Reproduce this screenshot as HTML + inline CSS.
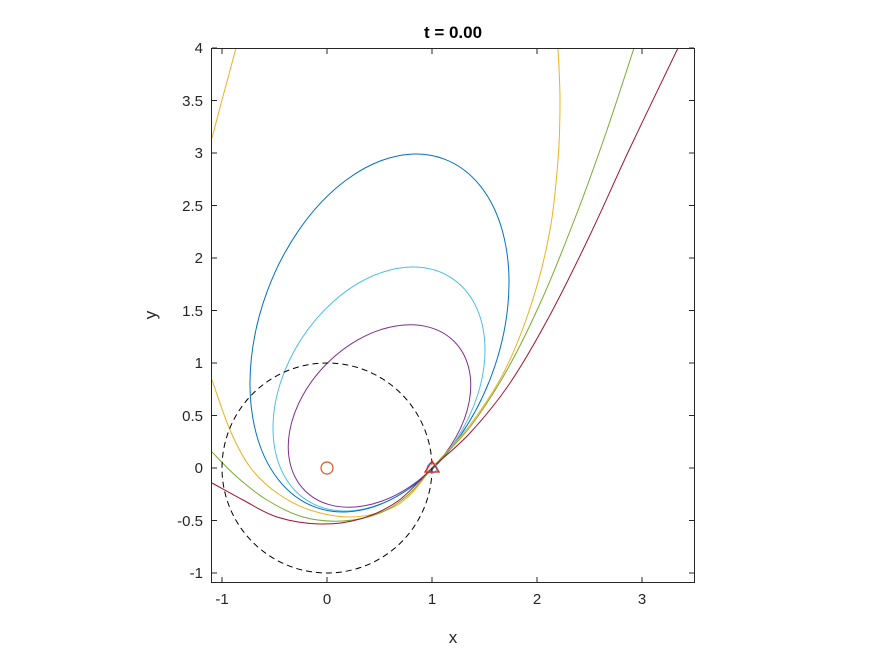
<!DOCTYPE html>
<html><head><meta charset="utf-8"><style>
html,body{margin:0;padding:0;background:#fff;}
svg{display:block;font-family:"Liberation Sans",sans-serif;}
</style></head><body>
<svg id="s" width="875" height="656" viewBox="0 0 875 656" xmlns="http://www.w3.org/2000/svg">
<rect width="875" height="656" fill="#fff"/>
<text x="453" y="38" text-anchor="middle" font-size="17" font-weight="bold" fill="#000">t = 0.00</text>
<g fill="none" stroke-width="1">
<ellipse cx="0" cy="0" rx="105.5" ry="74.3" transform="translate(379.5,416) rotate(-45)" stroke="#7e2f8e"/>
<ellipse cx="0" cy="0" rx="132.6" ry="92.4" transform="translate(379,389) rotate(-56.9)" stroke="#4dbeee"/>
<ellipse cx="0" cy="0" rx="185.6" ry="119.8" transform="translate(379.5,333) rotate(-69.7)" stroke="#0072bd"/>
</g>
<g id="curves" fill="none" stroke-width="1"></g>
<circle cx="327" cy="468" r="105" fill="none" stroke="#000" stroke-dasharray="6,4" stroke-width="1"/>
<circle cx="327" cy="468" r="6" fill="none" stroke="#d95319" stroke-width="1.2"/>
<circle cx="432" cy="468" r="5" fill="none" stroke="#4dbeee" stroke-width="1"/>
<polygon points="432,461 425,472 439,472" fill="none" stroke="#ee1111" stroke-width="1.3"/>
<rect x="211.5" y="48.5" width="483" height="534" fill="none" stroke="#262626" stroke-width="1"/>
<g stroke="#262626" stroke-width="1">
<line x1="222" y1="582" x2="222" y2="577"/><line x1="327" y1="582" x2="327" y2="577"/><line x1="432" y1="582" x2="432" y2="577"/><line x1="537" y1="582" x2="537" y2="577"/><line x1="642" y1="582" x2="642" y2="577"/>
<line x1="222" y1="49" x2="222" y2="54"/><line x1="327" y1="49" x2="327" y2="54"/><line x1="432" y1="49" x2="432" y2="54"/><line x1="537" y1="49" x2="537" y2="54"/><line x1="642" y1="49" x2="642" y2="54"/>
<line x1="212" y1="573" x2="217" y2="573"/><line x1="212" y1="520.5" x2="217" y2="520.5"/><line x1="212" y1="468" x2="217" y2="468"/><line x1="212" y1="415.5" x2="217" y2="415.5"/><line x1="212" y1="363" x2="217" y2="363"/><line x1="212" y1="310.5" x2="217" y2="310.5"/><line x1="212" y1="258" x2="217" y2="258"/><line x1="212" y1="205.5" x2="217" y2="205.5"/><line x1="212" y1="153" x2="217" y2="153"/><line x1="212" y1="100.5" x2="217" y2="100.5"/><line x1="212" y1="48" x2="217" y2="48"/>
<line x1="694" y1="573" x2="689" y2="573"/><line x1="694" y1="520.5" x2="689" y2="520.5"/><line x1="694" y1="468" x2="689" y2="468"/><line x1="694" y1="415.5" x2="689" y2="415.5"/><line x1="694" y1="363" x2="689" y2="363"/><line x1="694" y1="310.5" x2="689" y2="310.5"/><line x1="694" y1="258" x2="689" y2="258"/><line x1="694" y1="205.5" x2="689" y2="205.5"/><line x1="694" y1="153" x2="689" y2="153"/><line x1="694" y1="100.5" x2="689" y2="100.5"/><line x1="694" y1="48" x2="689" y2="48"/>
</g>
<g font-size="15" fill="#262626" text-anchor="middle">
<text x="222" y="604">-1</text><text x="327" y="604">0</text><text x="432" y="604">1</text><text x="537" y="604">2</text><text x="642" y="604">3</text>
</g>
<g font-size="15" fill="#262626" text-anchor="end">
<text x="203" y="578">-1</text><text x="203" y="526">-0.5</text><text x="203" y="473">0</text><text x="203" y="421">0.5</text><text x="203" y="368">1</text><text x="203" y="316">1.5</text><text x="203" y="263">2</text><text x="203" y="211">2.5</text><text x="203" y="158">3</text><text x="203" y="106">3.5</text><text x="203" y="53">4</text>
</g>
<text x="453" y="643" text-anchor="middle" font-size="17" fill="#262626">x</text>
<text transform="translate(156,315) rotate(-90)" text-anchor="middle" font-size="17" fill="#262626">y</text>
</svg>
<script>
function cr(p){var d="M"+p[0][0]+","+p[0][1];for(var i=0;i<p.length-1;i++){var a=p[i-1]||p[i],b=p[i],c=p[i+1],e=p[i+2]||c;d+="C"+(b[0]+(c[0]-a[0])/6).toFixed(1)+","+(b[1]+(c[1]-a[1])/6).toFixed(1)+" "+(c[0]-(e[0]-b[0])/6).toFixed(1)+","+(c[1]-(e[1]-b[1])/6).toFixed(1)+" "+c[0]+","+c[1];}return d;}
var C=[
["#edb120",[[212,380],[230,430],[250,467],[277,493],[310,510],[350,517],[387,510],[410,495],[432,468],[470,425],[505,370],[532,302],[550,230],[558,160],[560,100],[558,48]]],
["#edb120",[[212,138],[222,100],[236,48]]],
["#77ac30",[[212,452],[237,477],[267,500],[303,517],[343,521],[380,513],[408,495],[432,468],[470,427],[507,370],[543,297],[577,213],[607,130],[634,48]]],
["#a2142f",[[212,483],[243,500],[277,517],[320,524],[360,519],[398,501],[432,468],[470,433],[510,383],[550,315],[590,235],[630,148],[678,48]]]
];
var g=document.getElementById("curves");
C.forEach(function(c){var p=document.createElementNS("http://www.w3.org/2000/svg","path");p.setAttribute("d",cr(c[1]));p.setAttribute("stroke",c[0]);g.appendChild(p);});
</script>
</body></html>
